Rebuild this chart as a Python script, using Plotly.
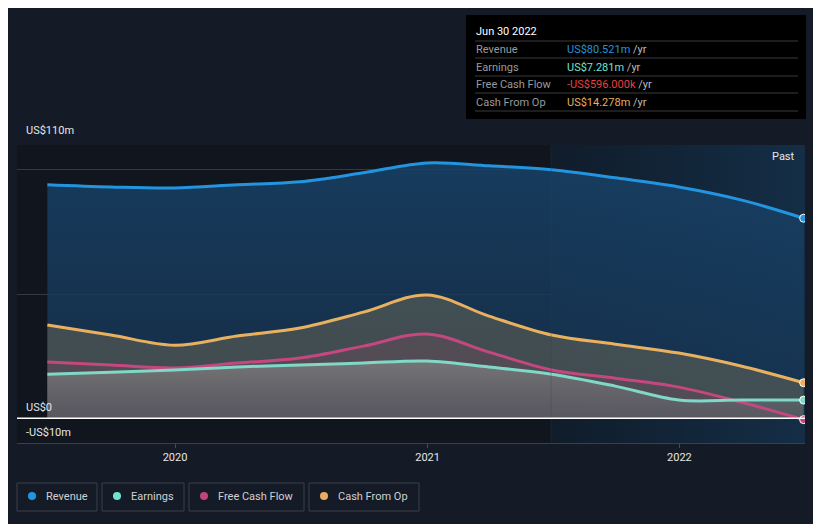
import plotly.graph_objects as go

dates = ["2019-06-30", "2019-09-30", "2019-12-31", "2020-03-31", "2020-06-30",
         "2020-09-30", "2020-12-31", "2021-03-31", "2021-06-30", "2021-09-30",
         "2021-12-31", "2022-03-31", "2022-06-30"]
revenue = [94.0, 93.1, 92.7, 94.0, 95.2, 98.8, 102.8, 101.6, 100.0, 96.8, 93.1, 87.9, 80.521]
earnings = [17.7, 18.5, 19.4, 20.6, 21.4, 22.2, 23.0, 20.6, 17.7, 12.9, 7.3, 7.3, 7.281]
fcf = [22.6, 21.4, 20.2, 22.2, 24.2, 29.0, 33.9, 26.6, 19.4, 16.1, 12.5, 6.5, -0.596]
cfo = [37.5, 33.5, 29.4, 33.1, 36.3, 42.7, 49.6, 41.1, 33.5, 29.8, 26.2, 21.0, 14.278]

series_names = ["Revenue", "Earnings", "Free Cash Flow", "Cash From Op"]
series_colors = ["#2394df", "#7fd8c8", "#c4487f", "#e9b15f"]
legend_colors = ["#2394df", "#6fe3d1", "#c0457e", "#e8ae5e"]
tooltip_values = ["US$80.521m", "US$7.281m", "-US$596.000k", "US$14.278m"]
tooltip_colors = ["#2394df", "#6fe3d1", "#e8413f", "#e8ae5e"]
x_ticks = ["2020-01-01", "2021-01-01", "2022-01-01"]
x_tick_labels = ["2020", "2021", "2022"]
y_labels = [(110, "US$110m"), (0, "US$0"), (-10, "-US$10m")]

X0, X1 = "2019-05-17", "2022-07-02"
PAST_START = "2021-06-29"

OFF = 8  # page body offset
W, H = 821 - OFF, 524 - OFF
L, T = 17 - OFF, 145 - OFF
R = W - (805 - OFF)
B = H - (443 - OFF)
PW, PH = W - L - R, H - T - B


def px(x):
    return (x - OFF - L) / PW


def py(y):
    return (H - B - (y - OFF)) / PH


fig = go.Figure()

# past highlight region
fig.add_trace(go.Scatter(
    x=[PAST_START, X1, X1, PAST_START, PAST_START], y=[-10, -10, 110, 110, -10],
    mode="lines", line=dict(width=0), fill="toself",
    fillgradient=dict(type="horizontal",
                      colorscale=[[0, "rgba(16,28,42,1)"], [1, "rgba(20,46,70,1)"]]),
    hoverinfo="skip", showlegend=False))
fig.add_shape(type="line", x0=PAST_START, x1=PAST_START, y0=-10, y1=110,
              line=dict(color="rgba(40,70,95,0.3)", width=1))

# fills
fig.add_trace(go.Scatter(x=dates, y=revenue, mode="lines", line=dict(width=0, shape="spline"),
                         fill="tozeroy",
                         fillgradient=dict(type="vertical", colorscale=[[0, "rgba(22,52,82,0.75)"], [1, "rgba(24,66,104,0.85)"]]),
                         hoverinfo="skip", showlegend=False))
fig.add_trace(go.Scatter(x=dates, y=cfo, mode="lines", line=dict(width=0, shape="spline"),
                         fill="tozeroy", fillcolor="rgba(120,112,88,0.45)",
                         hoverinfo="skip", showlegend=False))
fig.add_trace(go.Scatter(x=dates, y=fcf, mode="lines", line=dict(width=0, shape="spline"),
                         fill="tozeroy", fillcolor="rgba(160,70,105,0.18)",
                         hoverinfo="skip", showlegend=False))
fig.add_trace(go.Scatter(x=dates, y=earnings, mode="lines", line=dict(width=0, shape="spline"),
                         fill="tozeroy",
                         fillgradient=dict(type="vertical", colorscale=[[0, "rgba(95,100,108,0.5)"], [1, "rgba(128,128,126,0.78)"]]),
                         hoverinfo="skip", showlegend=False))

# lines
for vals, name, col in [(revenue, "Revenue", series_colors[0]), (cfo, "Cash From Op", series_colors[3]),
                        (fcf, "Free Cash Flow", series_colors[2]), (earnings, "Earnings", series_colors[1])]:
    fig.add_trace(go.Scatter(x=dates, y=vals, mode="lines", name=name,
                             line=dict(color=col, width=3, shape="spline"), showlegend=False))
    fig.add_trace(go.Scatter(x=[dates[-1]], y=[vals[-1]], mode="markers",
                             marker=dict(color=col, size=8, line=dict(color="white", width=1)),
                             showlegend=False, hoverinfo="skip"))

# zero line
fig.add_shape(type="line", xref="paper", x0=0, x1=1, y0=0, y1=0, line=dict(color="white", width=1.5))

annotations = []
for v, t in y_labels:
    annotations.append(dict(x=px(24), xref="paper", y=py(131) if v == 110 else v + 4.4,
                            yref="paper" if v == 110 else "y",
                            text=t, showarrow=False, xanchor="left", yanchor="middle",
                            font=dict(color="#e6e6e6", size=11)))
annotations.append(dict(x=px(797), xref="paper", y=py(156), yref="paper", text="Past", showarrow=False,
                        xanchor="right", yanchor="middle", font=dict(color="#e6e6e6", size=11)))

# tooltip box
shapes = []
shapes.append(dict(type="rect", xref="paper", yref="paper", x0=px(466), x1=px(806), y0=py(119), y1=py(15),
                   fillcolor="#000000", line=dict(width=0), layer="above"))
annotations.append(dict(x=px(474), xref="paper", y=py(31), yref="paper", text="Jun 30 2022", showarrow=False,
                        xanchor="left", yanchor="middle", font=dict(color="#ffffff", size=11)))
row_lines = [41, 58, 76, 93, 111]
for yl in row_lines:
    shapes.append(dict(type="line", xref="paper", yref="paper", x0=px(475), x1=px(798), y0=py(yl), y1=py(yl),
                       line=dict(color="#3a3a3a", width=1), layer="above"))
for i, (n, v, c) in enumerate(zip(series_names, tooltip_values, tooltip_colors)):
    yc = py(49.5 + 17.5 * i)
    annotations.append(dict(x=px(474), xref="paper", y=yc, yref="paper", text=n, showarrow=False,
                            xanchor="left", yanchor="middle", font=dict(color="#9a9a9a", size=11)))
    annotations.append(dict(x=px(565), xref="paper", y=yc, yref="paper",
                            text=f"<span style='color:{c}'>{v}</span> <span style='color:#bdbdbd'>/yr</span>",
                            showarrow=False, xanchor="left", yanchor="middle", font=dict(size=11)))

# legend boxes
legend_boxes = [(17, 97), (102, 184), (189, 304), (309, 419)]
for (a, b), n, c in zip(legend_boxes, series_names, legend_colors):
    shapes.append(dict(type="rect", xref="paper", yref="paper", x0=px(a), x1=px(b), y0=py(511), y1=py(483),
                       line=dict(color="#3b404a", width=1), fillcolor="rgba(0,0,0,0)"))
    cx = a + 15
    shapes.append(dict(type="circle", xref="paper", yref="paper", x0=px(cx - 4), x1=px(cx + 4), y0=py(500), y1=py(492),
                       fillcolor=c, line=dict(width=0)))
    annotations.append(dict(x=px(a + 27), xref="paper", y=py(496), yref="paper", text=n, showarrow=False,
                            xanchor="left", yanchor="middle", font=dict(color="#d0d0d0", size=11)))

fig.update_layout(
    width=W, height=H, margin=dict(l=L, r=R, t=T, b=B),
    paper_bgcolor="#151b26", plot_bgcolor="#10151e",
    font=dict(family="Roboto", color="#e6e6e6", size=11),
    showlegend=False, annotations=annotations, shapes=list(fig.layout.shapes) + shapes,
    xaxis=dict(type="date", range=[X0, X1], tickvals=x_ticks, ticktext=x_tick_labels,
               showgrid=False, zeroline=False, ticks="outside", ticklen=4, tickcolor="#444a55",
               showline=True, linecolor="#3a3f4a", linewidth=1, tickfont=dict(color="#e6e6e6", size=11)),
    yaxis=dict(range=[-10, 110], tickvals=[-10, 50, 100, 110], showticklabels=False,
               showgrid=True, gridcolor="#333a45", gridwidth=1, zeroline=False),
    hovermode=False,
)

fig.write_html("out.html")
